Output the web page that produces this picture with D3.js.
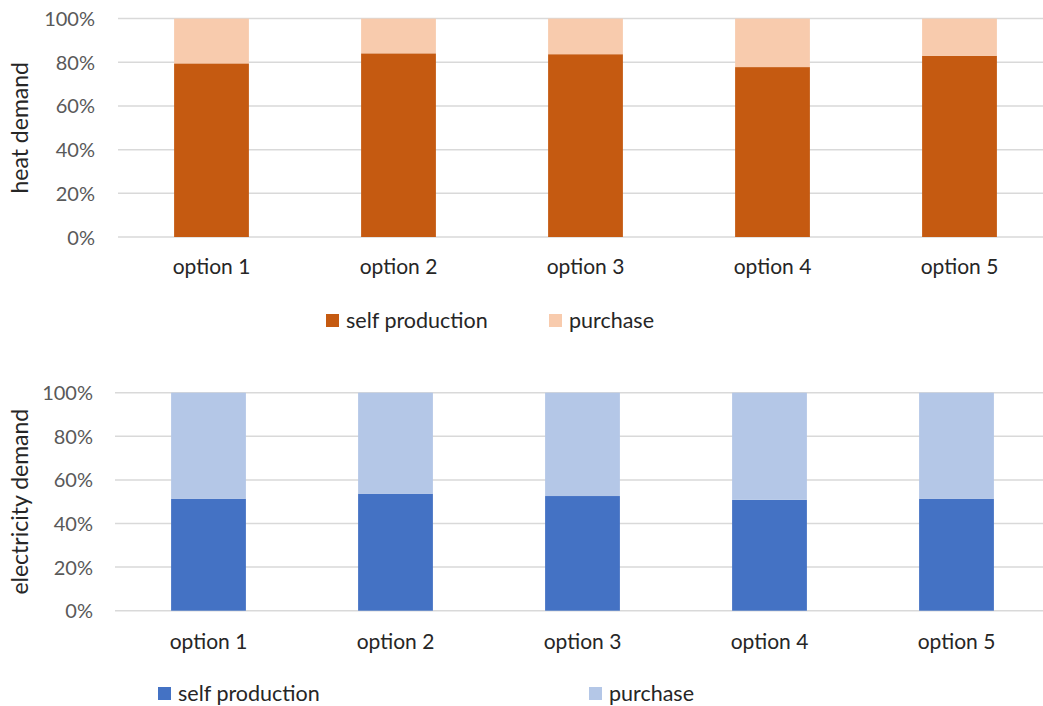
<!DOCTYPE html>
<html>
<head>
<meta charset="utf-8">
<script src="https://cdn.jsdelivr.net/npm/d3@7"></script>
<style>
  html, body { margin: 0; padding: 0; background: #fff; }
  svg text { font-family: Lato, "Open Sans", sans-serif; }
</style>
</head>
<body>
<svg id="chart" width="1043" height="706"></svg>
<script>
// Categories and shares (%) for each demand type
const options = ["option 1", "option 2", "option 3", "option 4", "option 5"];
const heatSelf = [79.5, 84.1, 83.7, 77.8, 83.0];
const heatPurchase = [20.5, 15.9, 16.3, 22.2, 17.0];
const elecSelf = [51.4, 53.7, 52.6, 50.9, 51.4];
const elecPurchase = [48.6, 46.3, 47.4, 49.1, 48.6];
const percentTicks = [0, 20, 40, 60, 80, 100];
const seriesNames = ["self production", "purchase"];

const svg = d3.select("#chart");

function drawPanel(p) {
  const rows = options.map((o, i) => ({ option: o, self: p.self[i], purchase: p.purchase[i] }));
  const stack = d3.stack().keys(["self", "purchase"])(rows);

  const x = d3.scaleBand().domain(options).range([p.x0, p.x0 + 935])
    .paddingInner(0.6).paddingOuter(0.3);
  const y = d3.scaleLinear().domain([0, 100]).range([p.yBottom, p.yTop]);

  const g = svg.append("g");

  // gridlines
  g.append("g").selectAll("line").data(percentTicks).join("line")
    .attr("x1", p.x0).attr("x2", 1043)
    .attr("y1", d => y(d)).attr("y2", d => y(d))
    .attr("stroke", "#d9d9d9").attr("stroke-width", 1.5);

  // y axis labels
  const yAxis = d3.axisLeft(y).tickValues(percentTicks).tickFormat(d => d + "%").tickSize(0).tickPadding(0);
  const ya = g.append("g").attr("transform", `translate(${p.yLabelX},0)`).call(yAxis);
  ya.select(".domain").remove();
  ya.selectAll("text").attr("fill", "#595959").style("font-size", "20px")
    .style("font-family", "Lato, sans-serif").attr("dy", "0.35em");

  // stacked bars
  g.append("g").selectAll("g").data(stack).join("g")
    .attr("fill", (d, i) => p.colors[i])
    .selectAll("rect").data(d => d).join("rect")
    .attr("x", d => x(d.data.option))
    .attr("width", x.bandwidth())
    .attr("y", d => y(d[1]))
    .attr("height", d => y(d[0]) - y(d[1]));

  // x axis labels
  const xAxis = d3.axisBottom(x).tickSize(0).tickPadding(0);
  const xa = g.append("g").attr("transform", `translate(0,${p.xLabelY})`).call(xAxis);
  xa.select(".domain").remove();
  xa.selectAll("text").attr("fill", "#262626").style("font-size", "21px")
    .style("font-family", "Lato, sans-serif").attr("dy", "0.35em");

  // axis title
  g.append("text")
    .attr("transform", `translate(${p.titleX},${(p.yTop + p.yBottom) / 2}) rotate(-90)`)
    .attr("text-anchor", "middle").attr("dy", "0.35em")
    .attr("fill", "#262626").style("font-size", "23px")
    .text(p.title);

  // legend
  seriesNames.forEach((name, i) => {
    const lx = p.legendX[i];
    g.append("rect").attr("x", lx).attr("y", p.legendY - 6).attr("width", 13).attr("height", 13)
      .attr("fill", p.colors[i]);
    g.append("text").attr("x", lx + 20).attr("y", p.legendY).attr("dy", "0.35em")
      .attr("fill", "#262626").style("font-size", "21.5px").text(name);
  });
}

drawPanel({
  self: heatSelf, purchase: heatPurchase,
  colors: ["#c55a11", "#f8cbad"],
  x0: 118, yTop: 18.6, yBottom: 237,
  yLabelX: 95, xLabelY: 267, titleX: 20,
  title: "heat demand",
  legendX: [326, 549], legendY: 320
});

drawPanel({
  self: elecSelf, purchase: elecPurchase,
  colors: ["#4472c4", "#b4c7e7"],
  x0: 115, yTop: 392.7, yBottom: 610.7,
  yLabelX: 93, xLabelY: 642, titleX: 20,
  title: "electricity demand",
  legendX: [158, 589], legendY: 693
});
</script>
</body>
</html>
